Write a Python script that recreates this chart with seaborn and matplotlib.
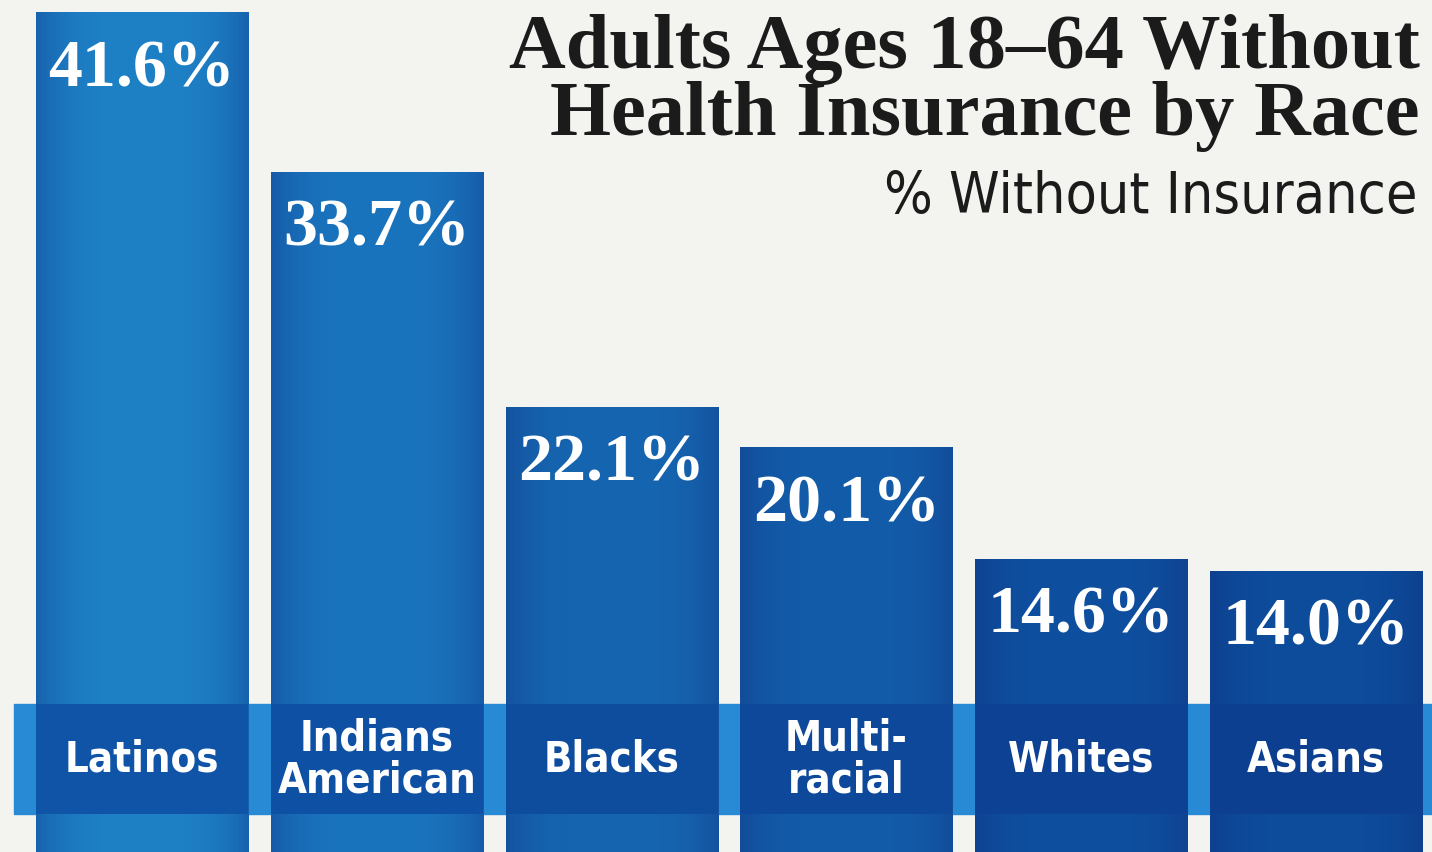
import numpy as np
import pandas as pd
import matplotlib
matplotlib.use("Agg")
import matplotlib.pyplot as plt
from matplotlib.colors import to_rgb
import seaborn as sns

# Data
groups = ["Latinos", "Indians American", "Blacks", "Multi-racial", "Whites", "Asians"]
group_labels = ["Latinos", "Indians\nAmerican", "Blacks", "Multi-\nracial", "Whites", "Asians"]
pct_uninsured = [41.6, 33.7, 22.1, 20.1, 14.6, 14.0]

# Styling
BG = "#f3f3ef"
CENTER_COLORS = ["#1e80c5", "#1a74bd", "#1665b0", "#135ca9", "#0f4f9f", "#0e4c9c"]
EDGE_COLORS = ["#1762ad", "#165aa8", "#14529f", "#124c9a", "#0e4391", "#0d408e"]
BAND_DARK = ["#0f54a7", "#0e50a3", "#0e4c9e", "#0d489a", "#0c4193", "#0c3f8f"]
BAND_LIGHT = "#2889d5"

sns.set_theme(style="white")
plt.rcParams["font.family"] = ["DejaVu Sans"]

fig = plt.figure(figsize=(14.32, 8.53), dpi=100, facecolor=BG)
ax = fig.add_axes([0, 0, 1, 1])
ax.set_facecolor(BG)

df = pd.DataFrame({"group": groups, "pct": pct_uninsured})
sns.barplot(data=df, x="group", y="pct", hue="group", palette=CENTER_COLORS,
            legend=False, width=0.903, ax=ax, saturation=1, zorder=2)

ax.set_xlim(-0.605, 5.494)
ax.set_ylim(0.12, 42.25)
ax.axis("off")

# light band across the whole chart
ax.axhspan(2.0, 7.43, xmin=0.0098, xmax=1.0, color=BAND_LIGHT, zorder=1)

bars = [p for p in ax.patches if p.get_height() > 0][:len(groups)]
for i, bar in enumerate(bars):
    x0, w, h = bar.get_x(), bar.get_width(), bar.get_height()
    bar.set_edgecolor("none")
    # horizontal shading: darker at the sides, lighter in the middle
    t = np.linspace(0, 1, 200)
    mix = 1 - np.abs(2 * t - 1) ** 3.5
    c0, c1 = np.array(to_rgb(EDGE_COLORS[i])), np.array(to_rgb(CENTER_COLORS[i]))
    grad = c0[None, :] * (1 - mix[:, None]) + c1[None, :] * mix[:, None]
    img = ax.imshow(grad[None, :, :], extent=(x0, x0 + w, 0, h), aspect="auto",
                    zorder=3, interpolation="bicubic")
    img.set_clip_path(bar)
    # darker band section inside the bar
    ax.fill_between([x0, x0 + w], 2.0, 7.43, color=BAND_DARK[i], zorder=4, lw=0)
    # value label
    ax.text(x0 + w / 2, h - 3.6, f"{pct_uninsured[i]:.1f}%", ha="center", va="baseline",
            color="white", fontsize=49, fontweight="bold",
            family=["Liberation Serif", "DejaVu Serif"], zorder=6)
    # category label
    ax.text(x0 + w / 2, 4.75, group_labels[i], ha="center", va="center",
            color="white", fontsize=30, fontweight="bold", linespacing=1.0,
            family=["DejaVu Sans"], fontstretch="condensed", zorder=6)

fig.text(1420 / 1432, 1 - 68 / 853, "Adults Ages 18\u201364 Without", ha="right", va="baseline",
         fontsize=56.5, fontweight="bold", color="#1b1b1b",
         family=["Liberation Serif", "DejaVu Serif"])
fig.text(1420 / 1432, 1 - 135 / 853, "Health Insurance by Race", ha="right", va="baseline",
         fontsize=56.5, fontweight="bold", color="#1b1b1b",
         family=["Liberation Serif", "DejaVu Serif"])
fig.text(1418 / 1432, 1 - 213 / 853, "% Without Insurance", ha="right", va="baseline",
         fontsize=41, color="#1b1b1b",
         family=["DejaVu Sans"], fontstretch="condensed")

fig.savefig("out.png", dpi=100, facecolor=BG)
